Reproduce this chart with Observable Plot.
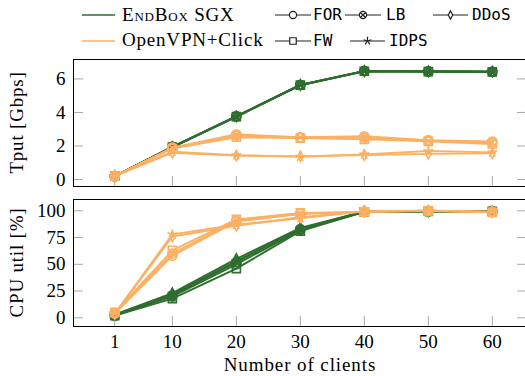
<!DOCTYPE html>
<html><head><meta charset="utf-8">
<script src="https://cdn.jsdelivr.net/npm/d3@7"></script>
<script src="https://cdn.jsdelivr.net/npm/@observablehq/plot@0.6"></script>
<style>
body{margin:0;background:#fff;}
#wrap{position:relative;width:525px;height:376px;overflow:hidden;background:#fff;}
#wrap svg{position:absolute;left:0;}
</style></head><body><div id="wrap"></div>
<script>
// ---- data ----
const clients = [1, 10, 20, 30, 40, 50, 60];
const workloads = ["FOR", "LB", "DDoS", "FW", "IDPS"];
const systems = ["EndBox SGX", "OpenVPN+Click"];
const tputTicks = [0, 2, 4, 6];
const cpuTicks = [0, 25, 50, 75, 100];

// Throughput [Gbps]
const tputEndboxFOR  = [0.2, 1.95, 3.78, 5.65, 6.48, 6.45, 6.43];
const tputEndboxLB   = [0.2, 1.95, 3.76, 5.64, 6.47, 6.46, 6.44];
const tputEndboxDDoS = [0.2, 1.94, 3.77, 5.64, 6.47, 6.45, 6.43];
const tputEndboxFW   = [0.2, 1.93, 3.75, 5.63, 6.46, 6.44, 6.42];
const tputEndboxIDPS = [0.2, 1.92, 3.74, 5.62, 6.45, 6.43, 6.41];
const tputOvpnFOR  = [0.2, 1.90, 2.70, 2.52, 2.58, 2.35, 2.27];
const tputOvpnLB   = [0.2, 1.88, 2.62, 2.50, 2.50, 2.30, 2.20];
const tputOvpnDDoS = [0.2, 1.60, 1.43, 1.38, 1.46, 1.53, 1.56];
const tputOvpnFW   = [0.2, 1.85, 2.52, 2.47, 2.40, 2.28, 2.12];
const tputOvpnIDPS = [0.2, 1.66, 1.45, 1.36, 1.50, 1.70, 1.62];

// CPU utilisation [%]
const cpuEndboxFOR  = [2.0, 20, 50, 82, 99.0, 99.5, 99.5];
const cpuEndboxLB   = [2.5, 21, 52, 83, 99.0, 99.5, 99.5];
const cpuEndboxDDoS = [3.0, 23, 55, 84, 99.5, 99.5, 99.5];
const cpuEndboxFW   = [2.0, 18, 46, 81, 99.0, 99.5, 99.5];
const cpuEndboxIDPS = [3.0, 22, 53, 83, 99.5, 99.5, 99.5];
const cpuOvpnFOR  = [4.0, 58, 90, 97.0, 99.0, 100, 99.0];
const cpuOvpnLB   = [4.5, 60, 91, 97.5, 99.0, 100, 99.0];
const cpuOvpnDDoS = [3.5, 76, 86, 94.0, 99.5, 100, 99.0];
const cpuOvpnFW   = [5.0, 63, 92, 98.0, 99.0, 100, 98.5];
const cpuOvpnIDPS = [4.0, 78, 87, 93.0, 99.5, 100, 99.0];

const tputSeries = {
  "EndBox SGX": {FOR: tputEndboxFOR, LB: tputEndboxLB, DDoS: tputEndboxDDoS, FW: tputEndboxFW, IDPS: tputEndboxIDPS},
  "OpenVPN+Click": {FOR: tputOvpnFOR, LB: tputOvpnLB, DDoS: tputOvpnDDoS, FW: tputOvpnFW, IDPS: tputOvpnIDPS}
};
const cpuSeries = {
  "EndBox SGX": {FOR: cpuEndboxFOR, LB: cpuEndboxLB, DDoS: cpuEndboxDDoS, FW: cpuEndboxFW, IDPS: cpuEndboxIDPS},
  "OpenVPN+Click": {FOR: cpuOvpnFOR, LB: cpuOvpnLB, DDoS: cpuOvpnDDoS, FW: cpuOvpnFW, IDPS: cpuOvpnIDPS}
};

// ---- styles ----
const colors = {"EndBox SGX": "#2f6d2f", "OpenVPN+Click": "#fdb063"};
const rad = s => Math.sqrt(s / Math.PI);
const symCircle = {draw(c, s) { const r = rad(s); c.moveTo(r, 0); c.arc(0, 0, r, 0, 2 * Math.PI); }};
const symSquare = {draw(c, s) { const r = rad(s) * 0.9; c.rect(-r, -r, 2 * r, 2 * r); }};
const symDiamond = {draw(c, s) { const r = rad(s); c.moveTo(0, -1.15 * r); c.lineTo(0.62 * r, 0); c.lineTo(0, 1.15 * r); c.lineTo(-0.62 * r, 0); c.closePath(); }};
const symOtimes = {draw(c, s) { const r = rad(s); c.moveTo(r, 0); c.arc(0, 0, r, 0, 2 * Math.PI); const d = r * Math.SQRT1_2; c.moveTo(-d, -d); c.lineTo(d, d); c.moveTo(-d, d); c.lineTo(d, -d); }};
const symStar = {draw(c, s) { const r = rad(s) * 1.15; for (let i = 0; i < 5; i++) { const a = -Math.PI / 2 + i * 2 * Math.PI / 5; c.moveTo(0, 0); c.lineTo(r * Math.cos(a), r * Math.sin(a)); } }};
const symbols = {FOR: symCircle, LB: symOtimes, DDoS: symDiamond, FW: symSquare, IDPS: symStar};

const W = 529, ML = 73, MR = 2;
const xDomain = [-5.45, 65.5];
const frameW = W - ML - MR;
const tickLen = 10;
const tickColor = "#a8a8a8";
const serif = "'Liberation Serif', 'Times New Roman', serif";

function seriesMarks(series) {
  const marks = [];
  for (const sys of systems) {
    for (const w of workloads) {
      const rows = clients.map((x, i) => ({x, y: series[sys][w][i]}));
      marks.push(Plot.line(rows, {x: "x", y: "y", stroke: colors[sys], strokeWidth: 1.9}));
      marks.push(Plot.dot(rows, {x: "x", y: "y", symbol: symbols[w], r: 4.5, fill: "none", stroke: colors[sys], strokeWidth: 1.6}));
    }
  }
  return marks;
}

function panel({series, ticks, yDomain, height, marginTop, marginBottom, xAxis}) {
  const frameH = height - marginTop - marginBottom;
  const marks = [
    Plot.tickY(ticks, {y: d => d, insetRight: frameW - tickLen, stroke: tickColor}),
    Plot.tickY(ticks, {y: d => d, insetLeft: frameW - tickLen, stroke: tickColor}),
    Plot.tickX(clients, {x: d => d, insetTop: frameH - tickLen, stroke: tickColor}),
    ...seriesMarks(series),
    Plot.axisY({ticks, tickSize: 0, tickPadding: 8, label: null, fontSize: 19}),
    Plot.frame({stroke: "black", strokeWidth: 1})
  ];
  if (xAxis) marks.push(Plot.axisX({ticks: clients, tickSize: 0, tickPadding: 8, label: null, fontSize: 19}));
  return Plot.plot({
    width: W, height, marginTop, marginBottom, marginLeft: ML, marginRight: MR,
    x: {domain: xDomain, axis: xAxis ? undefined : null},
    y: {domain: yDomain},
    style: {fontFamily: serif, fontSize: "19px", maxWidth: "none", overflow: "visible", background: "transparent", color: "black"},
    marks
  });
}

const wrap = document.getElementById("wrap");
const p1 = panel({series: tputSeries, ticks: tputTicks, yDomain: [-0.417, 7.16], height: 190, marginTop: 59, marginBottom: 4, xAxis: false});
p1.style.top = "0px";
wrap.appendChild(p1);
const p2 = panel({series: cpuSeries, ticks: cpuTicks, yDomain: [-8.13, 110.56], height: 186, marginTop: 9, marginBottom: 50, xAxis: true});
p2.style.top = "190px";
wrap.appendChild(p2);

// ---- overlay: legend and axis titles ----
const ov = d3.select(wrap).append("svg").attr("width", 525).attr("height", 376)
  .style("top", "0px").style("pointer-events", "none")
  .attr("font-family", serif).attr("font-size", 19);

ov.append("text").attr("transform", "translate(23,122.5) rotate(-90)").attr("text-anchor", "middle").attr("letter-spacing", 0.8).text("Tput [Gbps]");
ov.append("text").attr("transform", "translate(23,262.5) rotate(-90)").attr("text-anchor", "middle").attr("letter-spacing", 0.8).text("CPU util [%]");
ov.append("text").attr("x", 300).attr("y", 371).attr("text-anchor", "middle").attr("letter-spacing", 0.9).text("Number of clients");

// system entries
const sysLeg = [
  {sys: "EndBox SGX", y: 15, ty: 21},
  {sys: "OpenVPN+Click", y: 41, ty: 46}
];
for (const e of sysLeg) {
  ov.append("line").attr("x1", 82).attr("x2", 115).attr("y1", e.y).attr("y2", e.y)
    .attr("stroke", colors[e.sys]).attr("stroke-width", 1.6);
  const t = ov.append("text").attr("x", 122).attr("y", e.ty).attr("letter-spacing", 0.8);
  if (e.sys === "EndBox SGX") {
    t.append("tspan").style("font-variant", "small-caps").text("EndBox");
    t.append("tspan").text(" SGX");
  } else t.text(e.sys);
}
// workload entries
const wlLeg = [
  {w: "FOR", x1: 275, x2: 311, y: 15, tx: 313, ty: 20},
  {w: "LB", x1: 345, x2: 381, y: 15, tx: 386, ty: 20},
  {w: "DDoS", x1: 433, x2: 468, y: 15, tx: 472, ty: 20},
  {w: "FW", x1: 275, x2: 311, y: 41, tx: 313, ty: 46},
  {w: "IDPS", x1: 350, x2: 385, y: 41, tx: 389, ty: 46}
];
for (const e of wlLeg) {
  ov.append("line").attr("x1", e.x1).attr("x2", e.x2).attr("y1", e.y).attr("y2", e.y)
    .attr("stroke", "#222").attr("stroke-width", 1.2);
  ov.append("path").attr("transform", `translate(${(e.x1 + e.x2) / 2},${e.y})`)
    .attr("d", d3.symbol(symbols[e.w], Math.PI * 3.6 * 3.6)())
    .attr("fill", "white").attr("stroke", "#222").attr("stroke-width", 1.2);
  ov.append("text").attr("x", e.tx).attr("y", e.ty)
    .attr("font-family", "'DejaVu Sans Mono', monospace").attr("font-size", 16).text(e.w);
}
</script></body></html>
